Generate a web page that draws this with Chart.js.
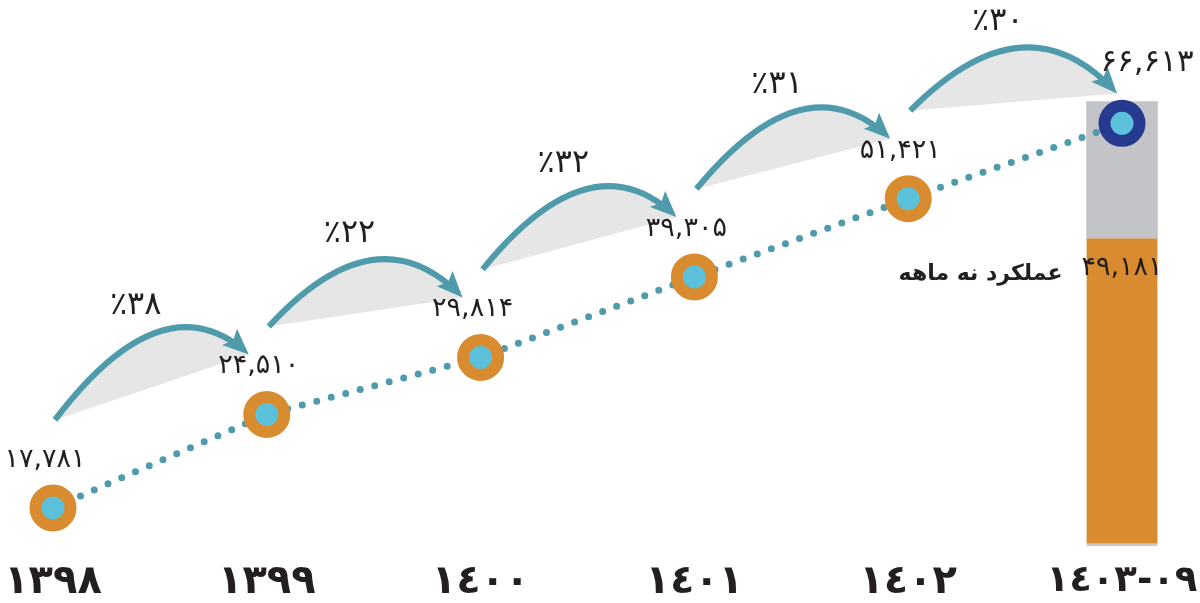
<!DOCTYPE html>
<html>
<head>
<meta charset="utf-8">
<script src="https://cdn.jsdelivr.net/npm/chart.js@4.4.1/dist/chart.umd.min.js"></script>
<style>
    html, body { margin: 0; padding: 0; background: #fff; }
</style>
</head>
<body>
<canvas id="chart" width="1200" height="603"></canvas>
<script>
var years = ['١٣٩٨', '١٣٩٩', '١٤٠٠', '١٤٠١', '١٤٠٢', '١٤٠٣\u200E-\u200E٠٩'];
var revenue = [17781, 24510, 29814, 39305, 51421, 66613];
var growth = [38, 22, 32, 31, 30];
var nineMonths = [null, null, null, null, null, 49181];
var yearTotal = [null, null, null, null, null, 66613];
var nineMonthsLabel = 'عملکرد نه ماهه';

var teal = '#4F9BAC';
var orange = '#D98C2F';
var lightBlue = '#5BC1DB';
var navy = '#263B8F';
var barGray = '#C3C4C8';
var arcFill = '#E6E6E6';
var ink = '#231F20';

var restOfYear = yearTotal.map(function (v, i) {
    return v == null ? null : v - nineMonths[i];
});

function toFa(n) {
    var s = n.toString().replace(/\B(?=(\d{3})+(?!\d))/g, ',');
    return s.replace(/\d/g, function (d) { return '۰۱۲۳۴۵۶۷۸۹'[d]; });
}

var growthArrows = {
    id: 'growthArrows',
    afterDatasetsDraw: function (chart) {
        var ctx = chart.ctx;
        var pts = chart.getDatasetMeta(0).data;
        var barTop = chart.getDatasetMeta(2).data[5];
        ctx.save();
        for (var i = 0; i < growth.length; i++) {
            var a = pts[i], b = pts[i + 1];
            var sx = a.x + 2, sy = a.y - 88;
            var ex = b.x - 18, ey = b.y - 60;
            if (i === growth.length - 1) {
                // the last arrow lands on top of the bar
                ex = barTop.x - 5;
                ey = barTop.y - 8;
            }
            var len = Math.hypot(ex - sx, ey - sy);
            var cx = sx + (ex - sx) * 0.56, cy = sy + (ey - sy) * 0.56 - len * 0.52;

            ctx.beginPath();
            ctx.moveTo(sx, sy);
            ctx.quadraticCurveTo(cx, cy, ex, ey);
            ctx.closePath();
            ctx.fillStyle = arcFill;
            ctx.fill();

            // stop the stroke where the arrow head begins
            var dl = Math.hypot(ex - cx, ey - cy);
            var t = 1 - 18 / (2 * dl);
            var q0x = sx + (cx - sx) * t, q0y = sy + (cy - sy) * t;
            var q1x = cx + (ex - cx) * t, q1y = cy + (ey - cy) * t;
            var bx = q0x + (q1x - q0x) * t, by = q0y + (q1y - q0y) * t;
            ctx.beginPath();
            ctx.moveTo(sx, sy);
            ctx.quadraticCurveTo(q0x, q0y, bx, by);
            ctx.strokeStyle = teal;
            ctx.lineWidth = 6;
            ctx.stroke();

            var dx = (ex - cx) / dl, dy = (ey - cy) / dl;
            var hx = ex - dx * 26, hy = ey - dy * 26;
            ctx.beginPath();
            ctx.moveTo(ex, ey);
            ctx.lineTo(hx - dy * 11, hy + dx * 11);
            ctx.lineTo(hx + dx * 5, hy + dy * 5);
            ctx.lineTo(hx + dy * 11, hy - dx * 11);
            ctx.closePath();
            ctx.fillStyle = teal;
            ctx.fill();

            var mx = (sx + 2 * cx + ex) / 4, my = (sy + 2 * cy + ey) / 4;
            ctx.fillStyle = ink;
            ctx.font = '32px "DejaVu Sans"';
            ctx.textAlign = 'center';
            ctx.textBaseline = 'middle';
            ctx.fillText('٪' + toFa(growth[i]), mx - 22, my - 26);
        }
        ctx.restore();
    }
};

var valueLabels = {
    id: 'valueLabels',
    afterDatasetsDraw: function (chart) {
        var ctx = chart.ctx;
        var pts = chart.getDatasetMeta(0).data;
        ctx.save();
        ctx.fillStyle = ink;
        ctx.textAlign = 'center';
        ctx.textBaseline = 'middle';
        pts.forEach(function (p, i) {
            var last = i === pts.length - 1;
            ctx.font = (last ? '31px' : '27px') + ' "DejaVu Sans"';
            ctx.fillText(toFa(revenue[i]), p.x + (last ? 25 : -8), p.y - (last ? 60 : 48));
        });

        var bar = chart.getDatasetMeta(1).data[5];
        ctx.font = '27px "DejaVu Sans"';
        ctx.fillText(toFa(nineMonths[5]), bar.x, bar.y + 30);
        ctx.font = 'bold 22px "DejaVu Sans"';
        ctx.textAlign = 'right';
        ctx.fillText(nineMonthsLabel, bar.x - bar.width / 2 - 24, bar.y + 36);
        ctx.restore();
    }
};

new Chart(document.getElementById('chart').getContext('2d'), {
    data: {
        labels: years,
        datasets: [{
            type: 'line',
            data: revenue,
            yAxisID: 'y',
            borderColor: teal,
            borderWidth: 7,
            borderDash: [0, 15],
            borderCapStyle: 'round',
            pointRadius: 17.5,
            pointBorderWidth: 12,
            pointBackgroundColor: lightBlue,
            pointBorderColor: [orange, orange, orange, orange, orange, navy],
            tension: 0,
            clip: false,
            order: 0
        }, {
            type: 'bar',
            data: nineMonths,
            yAxisID: 'y2',
            base: 10000,
            backgroundColor: orange,
            borderColor: '#C9C9CC',
            borderWidth: { top: 0, left: 0, right: 0, bottom: 3 },
            borderSkipped: false,
            barThickness: 71,
            stack: 'year',
            clip: false,
            order: 1
        }, {
            type: 'bar',
            data: restOfYear,
            yAxisID: 'y2',
            backgroundColor: barGray,
            barThickness: 71,
            stack: 'year',
            clip: false,
            order: 2
        }]
    },
    options: {
        responsive: false,
        animation: false,
        layout: { autoPadding: false, padding: { left: 53, right: 78, top: 20, bottom: 0 } },
        plugins: { legend: { display: false }, tooltip: { enabled: false } },
        scales: {
            x: {
                type: 'category',
                offset: false,
                stacked: true,
                grid: { display: false },
                border: { display: false },
                ticks: {
                    color: ink,
                    font: function (c) {
                        return { family: 'DejaVu Sans', size: c.index === 5 ? 37 : 40, weight: 'bold' };
                    },
                    padding: 5,
                    maxRotation: 0,
                    autoSkip: false
                },
                afterFit: function (scale) {
                    scale.height = 57;
                    scale.paddingLeft = 0;
                    scale.paddingRight = 0;
                }
            },
            y: {
                type: 'logarithmic',
                display: false,
                min: 15600,
                max: 95000
            },
            y2: {
                type: 'linear',
                display: false,
                stacked: true,
                min: 10000,
                max: 77000
            }
        }
    },
    plugins: [growthArrows, valueLabels]
});
</script>
</body>
</html>
